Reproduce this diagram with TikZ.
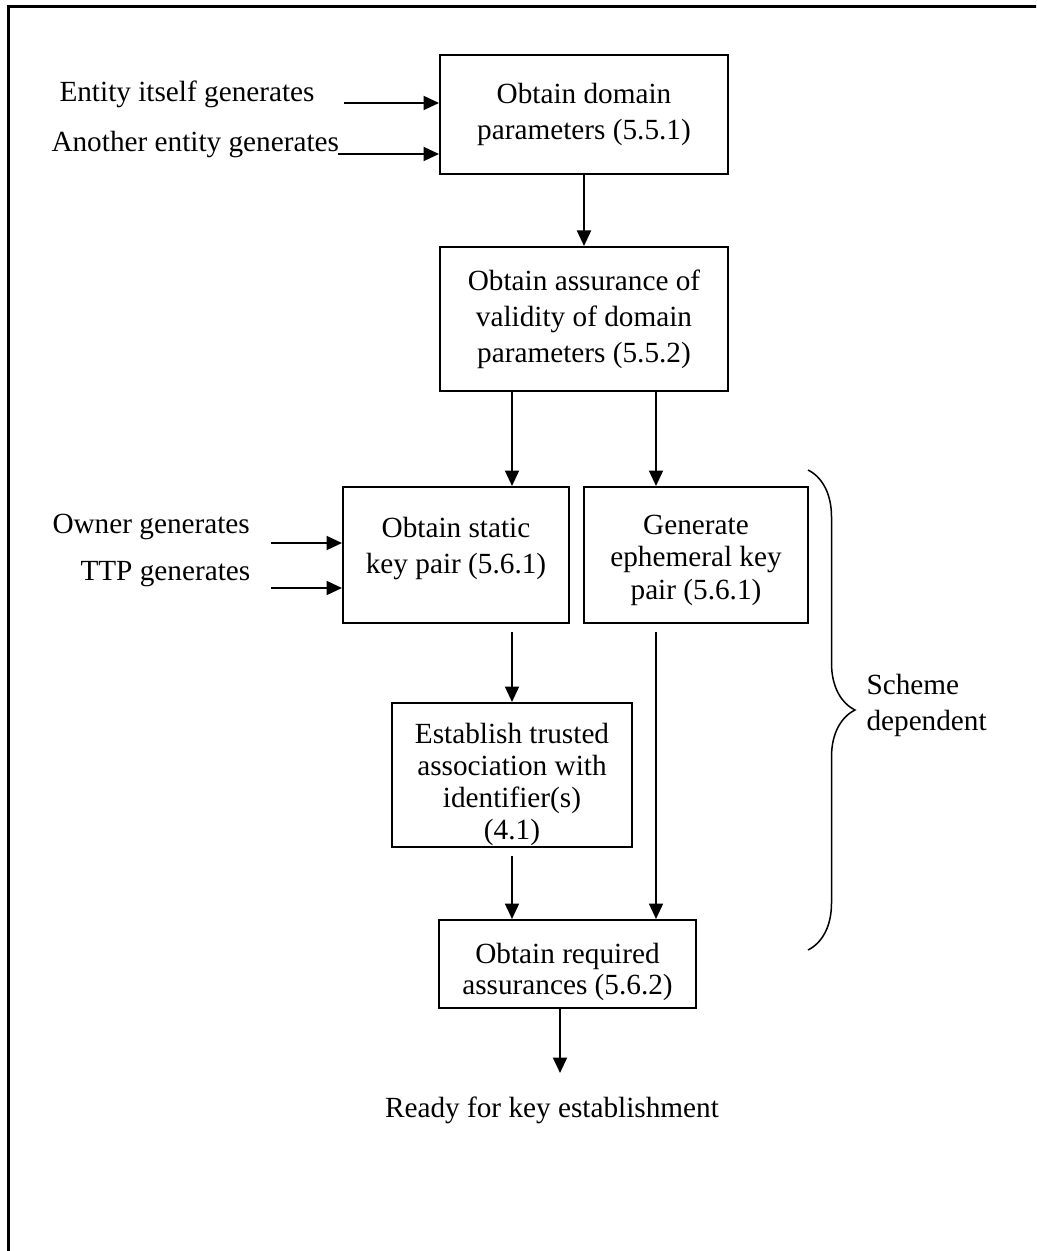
\documentclass[tikz,border=0pt]{standalone}
\usepackage{fontspec}
\setmainfont{Liberation Serif}
\usetikzlibrary{arrows.meta,decorations.pathreplacing}

\tikzset{
  box/.style={draw=black, line width=0.8pt, shape=rectangle, inner sep=0pt, align=center},
  lbl/.style={shape=rectangle, draw=none, inner sep=0pt},
  arr/.style={black, line width=0.8pt, -{Triangle[length=6.2pt,width=5.6pt]}},
  gap/.style={shorten <=3.2pt},
}

\begin{document}
\begin{tikzpicture}[x=0.4pt,y=-0.4pt,font=\fontsize{11.7pt}{14.4pt}\selectfont]

\useasboundingbox (0,0) rectangle (1036,1251);
\clip (0,0) rectangle (1036,1251);

%% - Draw frame
%% - --------------------------------------

\draw[black, line width=1.2pt] (8,1260) -- (8,7) -- (1050,7);

%% - Draw boxes
%% - --------------------------------------

\node[box, minimum width=115.2pt, minimum height=47.6pt] (dom) at (584,114.5) {Obtain domain\\parameters (5.5.1)};
\node[box, minimum width=115.2pt, minimum height=57.6pt] (valid) at (584,319) {Obtain assurance of\\validity of domain\\parameters (5.5.2)};
\node[box, minimum width=90.4pt, minimum height=54.4pt] (stat) at (456,555) {Obtain static\\key pair (5.6.1)\\[-6.4pt]~};
\node[box, minimum width=89.6pt, minimum height=54.4pt, font=\fontsize{11.7pt}{13pt}\selectfont] (ephem) at (696,555) {\rule{0pt}{11.7pt}Generate\\ephemeral key\\pair (5.6.1)};
\node[box, minimum width=96pt, minimum height=57.6pt, font=\fontsize{11.7pt}{12.8pt}\selectfont] (trust) at (512,775) {\rule{0pt}{16pt}Establish trusted\\association with\\identifier(s)\\(4.1)};
\node[box, minimum width=102.8pt, minimum height=35.2pt, font=\fontsize{11.7pt}{12.4pt}\selectfont] (assur) at (567.5,964) {\rule{0pt}{14.4pt}Obtain required\\assurances (5.6.2)};

%% - Draw Texts
%% - --------------------------------------

\node[lbl, anchor=base west] (ent) at (59,102) {Entity itself generates};
\node[lbl, anchor=base west] (ano) at (51,152) {Another entity generates};
\node[lbl, anchor=base west] (own) at (52,533) {Owner generates};
\node[lbl, anchor=base west] (ttp) at (80,580) {TTP generates};
\node[lbl, anchor=west, align=left] (scheme) at (866,705) {Scheme\\dependent};
\node[lbl] (ready) at (552,1110) {Ready for key establishment};

%% - Draw arrows
%% - --------------------------------------

\coordinate (e1) at (344,103);
\coordinate (e2) at (338,154);
\coordinate (o1) at (271,543);
\coordinate (o2) at (271,588);
\coordinate (rcol) at (656,0);
\coordinate (done) at (560,1073);

%% - inputs
\draw[arr] (e1) -- (e1 -| dom.west);
\draw[arr] (e2) -- (e2 -| dom.west);
\draw[arr] (o1) -- (o1 -| stat.west);
\draw[arr] (o2) -- (o2 -| stat.west);

%% - flow
\draw[arr] (dom.south) -- (valid.north);
\draw[arr] (valid.south -| trust.north) -- (stat.north -| trust.north);
\draw[arr] (valid.south -| rcol) -- (ephem.north -| rcol);
\draw[arr, gap] (stat.south -| trust.north) -- (trust.north);
\draw[arr, gap] (trust.south) -- (assur.north -| trust.south);
\draw[arr, gap] (ephem.south -| rcol) -- (assur.north -| rcol);
\draw[arr] (assur.south -| done) -- (done);

%% - brace
\draw[black, line width=0.6pt, decorate, decoration={brace, amplitude=18.8pt}] (808,470) -- (808,950);

\end{tikzpicture}
\end{document}
